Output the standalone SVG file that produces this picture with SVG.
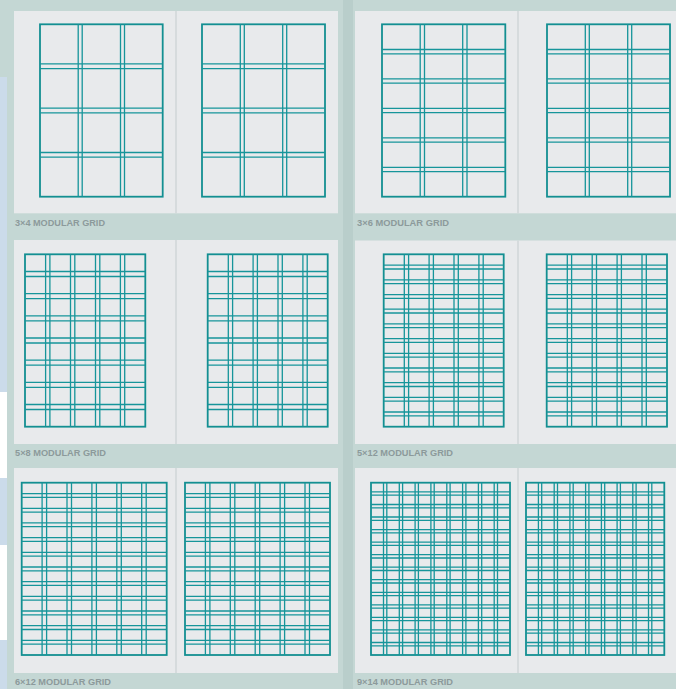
<svg xmlns="http://www.w3.org/2000/svg" width="676" height="689" viewBox="0 0 676 689">
<style>
.frame{fill:#c4d7d4}
.gut{fill:#b9cecb}
.blue{fill:#cbdbea}
.white{fill:#ffffff}
.page{fill:#e8eaec}
.split{stroke:#d0d6d8;stroke-width:1.5}
.o{fill:none;stroke:#138f92;stroke-width:1.8}
.l{fill:none;stroke:#16959a;stroke-width:1.3}
.lbl{font-family:"Liberation Sans",Arial,sans-serif;font-size:9.3px;font-weight:bold;fill:#8c9a9b}
</style>
<rect class="frame" x="0" y="0" width="676" height="689"/>
<rect class="blue" x="0" y="77" width="7" height="315"/>
<rect class="white" x="0" y="392" width="7" height="86"/>
<rect class="blue" x="0" y="478" width="7" height="67"/>
<rect class="white" x="0" y="545" width="7" height="95"/>
<rect class="blue" x="0" y="640" width="7" height="49"/>
<rect class="gut" x="343" y="0" width="10" height="689"/>

<g id="pages">
<rect class="page" x="14" y="11" width="324" height="202.3"/>
<rect class="page" x="355" y="11" width="321" height="202.3"/>
<rect class="page" x="14" y="240" width="324" height="204"/>
<rect class="page" x="355" y="240.5" width="321" height="203.5"/>
<rect class="page" x="14" y="468" width="324" height="205"/>
<rect class="page" x="355" y="468" width="321" height="205"/>
<path class="split" d="M176 11V213.3M518 11V213.3M176 240V444M518 240.5V444M176 468V673M518 468V673"/>
</g>

<g id="grid-3x4-left">
<rect class="o" x="40" y="24.3" width="122.7" height="172.4"/>
<path class="l" d="M78.2 24.3V196.7M82.2 24.3V196.7M120.5 24.3V196.7M124.5 24.3V196.7M40 63.9h122.7M40 68.6h122.7M40 108.2h122.7M40 112.9h122.7M40 152.5h122.7M40 157.2h122.7"/>
</g>
<g id="grid-3x4-right">
<rect class="o" x="202" y="24.3" width="123" height="172.4"/>
<path class="l" d="M240.3 24.3V196.7M244.3 24.3V196.7M282.7 24.3V196.7M286.7 24.3V196.7M202 63.9h123M202 68.6h123M202 108.2h123M202 112.9h123M202 152.5h123M202 157.2h123"/>
</g>
<g id="grid-3x6-left">
<rect class="o" x="382" y="24.3" width="123.3" height="172.4"/>
<path class="l" d="M420.2 24.3V196.7M424.5 24.3V196.7M462.7 24.3V196.7M467 24.3V196.7M382 49.5h123.3M382 53.8h123.3M382 78.9h123.3M382 83.2h123.3M382 108.4h123.3M382 112.7h123.3M382 137.8h123.3M382 142.1h123.3M382 167.3h123.3M382 171.6h123.3"/>
</g>
<g id="grid-3x6-right">
<rect class="o" x="547" y="24.3" width="123" height="172.4"/>
<path class="l" d="M585.3 24.3V196.7M589.3 24.3V196.7M627.7 24.3V196.7M631.7 24.3V196.7M547 49.5h123M547 53.8h123M547 78.9h123M547 83.2h123M547 108.4h123M547 112.7h123M547 137.8h123M547 142.1h123M547 167.3h123M547 171.6h123"/>
</g>

<g id="grid-5x8-left">
<rect class="o" x="25" y="254.3" width="120.3" height="172.4"/>
<path class="l" d="M45.6 254.3V426.7M49.9 254.3V426.7M70.5 254.3V426.7M74.8 254.3V426.7M95.5 254.3V426.7M99.8 254.3V426.7M120.4 254.3V426.7M124.7 254.3V426.7M25 271.5h120.3M25 276.5h120.3M25 293.7h120.3M25 298.7h120.3M25 315.8h120.3M25 320.8h120.3M25 338h120.3M25 343h120.3M25 360.2h120.3M25 365.2h120.3M25 382.4h120.3M25 387.4h120.3M25 404.5h120.3M25 409.5h120.3"/>
</g>
<g id="grid-5x8-right">
<rect class="o" x="207.7" y="254.3" width="120" height="172.4"/>
<path class="l" d="M228.3 254.3V426.7M232.6 254.3V426.7M253.1 254.3V426.7M257.4 254.3V426.7M278 254.3V426.7M282.3 254.3V426.7M302.9 254.3V426.7M307.2 254.3V426.7M207.7 271.5h120M207.7 276.5h120M207.7 293.7h120M207.7 298.7h120M207.7 315.8h120M207.7 320.8h120M207.7 338h120M207.7 343h120M207.7 360.2h120M207.7 365.2h120M207.7 382.4h120M207.7 387.4h120M207.7 404.5h120M207.7 409.5h120"/>
</g>
<g id="grid-5x12-left">
<rect class="o" x="383.7" y="254.3" width="120" height="172.4"/>
<path class="l" d="M404.3 254.3V426.7M408.6 254.3V426.7M429.1 254.3V426.7M433.4 254.3V426.7M454 254.3V426.7M458.3 254.3V426.7M478.9 254.3V426.7M483.2 254.3V426.7M383.7 265.2h120M383.7 269h120M383.7 279.9h120M383.7 283.7h120M383.7 294.6h120M383.7 298.4h120M383.7 309.2h120M383.7 313h120M383.7 323.9h120M383.7 327.7h120M383.7 338.6h120M383.7 342.4h120M383.7 353.3h120M383.7 357.1h120M383.7 368h120M383.7 371.8h120M383.7 382.7h120M383.7 386.5h120M383.7 397.3h120M383.7 401.1h120M383.7 412h120M383.7 415.8h120"/>
</g>
<g id="grid-5x12-right">
<rect class="o" x="546.7" y="254.3" width="120.3" height="172.4"/>
<path class="l" d="M567.3 254.3V426.7M571.6 254.3V426.7M592.2 254.3V426.7M596.5 254.3V426.7M617.1 254.3V426.7M621.4 254.3V426.7M642 254.3V426.7M646.3 254.3V426.7M546.7 265.2h120.3M546.7 269h120.3M546.7 279.9h120.3M546.7 283.7h120.3M546.7 294.6h120.3M546.7 298.4h120.3M546.7 309.2h120.3M546.7 313h120.3M546.7 323.9h120.3M546.7 327.7h120.3M546.7 338.6h120.3M546.7 342.4h120.3M546.7 353.3h120.3M546.7 357.1h120.3M546.7 368h120.3M546.7 371.8h120.3M546.7 382.7h120.3M546.7 386.5h120.3M546.7 397.3h120.3M546.7 401.1h120.3M546.7 412h120.3M546.7 415.8h120.3"/>
</g>

<g id="grid-6x12-left">
<rect class="o" x="21.7" y="482.7" width="145" height="172.3"/>
<path class="l" d="M42.1 482.7V655M46.6 482.7V655M67 482.7V655M71.5 482.7V655M91.9 482.7V655M96.4 482.7V655M116.8 482.7V655M121.3 482.7V655M141.7 482.7V655M146.2 482.7V655M21.7 493.6h145M21.7 497.4h145M21.7 508.3h145M21.7 512.1h145M21.7 522.9h145M21.7 526.7h145M21.7 537.6h145M21.7 541.4h145M21.7 552.3h145M21.7 556.1h145M21.7 567h145M21.7 570.8h145M21.7 581.6h145M21.7 585.4h145M21.7 596.3h145M21.7 600.1h145M21.7 611h145M21.7 614.8h145M21.7 625.7h145M21.7 629.5h145M21.7 640.3h145M21.7 644.1h145"/>
</g>
<g id="grid-6x12-right">
<rect class="o" x="185" y="482.7" width="145" height="172.3"/>
<path class="l" d="M205.4 482.7V655M209.9 482.7V655M230.3 482.7V655M234.8 482.7V655M255.2 482.7V655M259.7 482.7V655M280.1 482.7V655M284.6 482.7V655M305 482.7V655M309.5 482.7V655M185 493.6h145M185 497.4h145M185 508.3h145M185 512.1h145M185 522.9h145M185 526.7h145M185 537.6h145M185 541.4h145M185 552.3h145M185 556.1h145M185 567h145M185 570.8h145M185 581.6h145M185 585.4h145M185 596.3h145M185 600.1h145M185 611h145M185 614.8h145M185 625.7h145M185 629.5h145M185 640.3h145M185 644.1h145"/>
</g>
<g id="grid-9x14-left">
<rect class="o" x="371" y="482.7" width="139" height="172.3"/>
<path class="l" d="M383.5 482.7V655M386.8 482.7V655M399.3 482.7V655M402.6 482.7V655M415.1 482.7V655M418.4 482.7V655M430.9 482.7V655M434.2 482.7V655M446.8 482.7V655M450.1 482.7V655M462.6 482.7V655M465.9 482.7V655M478.4 482.7V655M481.7 482.7V655M494.2 482.7V655M497.5 482.7V655M371 491.9h139M371 495.2h139M371 504.5h139M371 507.8h139M371 517h139M371 520.3h139M371 529.6h139M371 532.9h139M371 542.1h139M371 545.4h139M371 554.7h139M371 558h139M371 567.2h139M371 570.5h139M371 579.7h139M371 583h139M371 592.3h139M371 595.6h139M371 604.8h139M371 608.1h139M371 617.4h139M371 620.7h139M371 629.9h139M371 633.2h139M371 642.5h139M371 645.8h139"/>
</g>
<g id="grid-9x14-right">
<rect class="o" x="526" y="482.7" width="138.3" height="172.3"/>
<path class="l" d="M538.4 482.7V655M541.7 482.7V655M554.2 482.7V655M557.5 482.7V655M569.9 482.7V655M573.2 482.7V655M585.6 482.7V655M588.9 482.7V655M601.4 482.7V655M604.7 482.7V655M617.1 482.7V655M620.4 482.7V655M632.8 482.7V655M636.1 482.7V655M648.5 482.7V655M651.8 482.7V655M526 491.9h138.3M526 495.2h138.3M526 504.5h138.3M526 507.8h138.3M526 517h138.3M526 520.3h138.3M526 529.6h138.3M526 532.9h138.3M526 542.1h138.3M526 545.4h138.3M526 554.7h138.3M526 558h138.3M526 567.2h138.3M526 570.5h138.3M526 579.7h138.3M526 583h138.3M526 592.3h138.3M526 595.6h138.3M526 604.8h138.3M526 608.1h138.3M526 617.4h138.3M526 620.7h138.3M526 629.9h138.3M526 633.2h138.3M526 642.5h138.3M526 645.8h138.3"/>
</g>

<g id="labels">
<text class="lbl" x="15" y="225.5" textLength="90" lengthAdjust="spacingAndGlyphs">3×4 MODULAR GRID</text>
<text class="lbl" x="357" y="225.5" textLength="92" lengthAdjust="spacingAndGlyphs">3×6 MODULAR GRID</text>
<text class="lbl" x="15" y="456" textLength="91" lengthAdjust="spacingAndGlyphs">5×8 MODULAR GRID</text>
<text class="lbl" x="357" y="456" textLength="96" lengthAdjust="spacingAndGlyphs">5×12 MODULAR GRID</text>
<text class="lbl" x="15" y="684.7" textLength="96" lengthAdjust="spacingAndGlyphs">6×12 MODULAR GRID</text>
<text class="lbl" x="357" y="684.7" textLength="96" lengthAdjust="spacingAndGlyphs">9×14 MODULAR GRID</text>
</g>
</svg>
